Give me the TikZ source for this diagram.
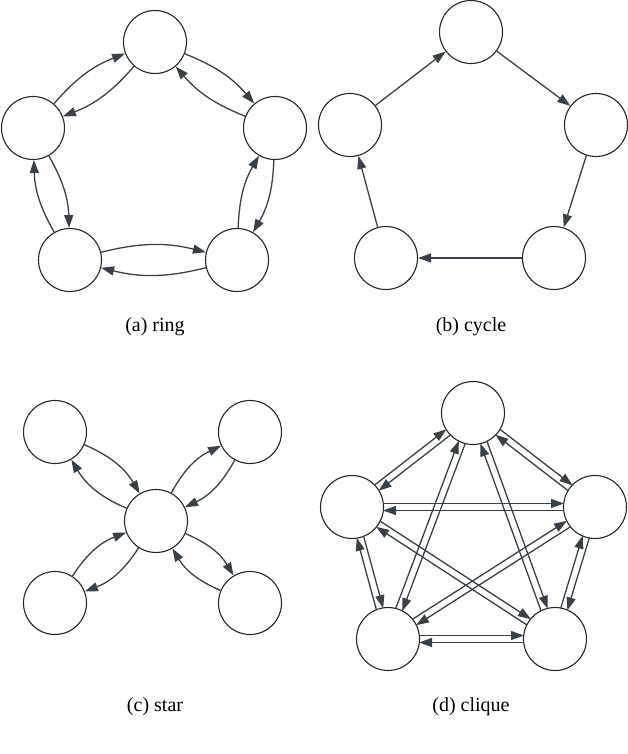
\documentclass[tikz,border=0pt]{standalone}
\usepackage{fontspec}
\setmainfont{Liberation Serif}
\usetikzlibrary{arrows.meta,calc}
\definecolor{ac}{RGB}{58,64,72}
\begin{document}
\begin{tikzpicture}[x=1pt,y=-1pt,
  nd/.style={circle,draw=black!85,line width=1.1pt,minimum size=63pt,inner sep=0pt},
  ar/.style={draw=ac,line width=1.3pt,-{Triangle[length=13pt,width=9pt,fill=ac]}},
  lbl/.style={font=\fontsize{20}{22}\selectfont}]
\useasboundingbox (0,0) rectangle (628,754);
% ring
\node[nd] (r1) at (155,42) {};
\node[nd] (r2) at (275,128) {};
\node[nd] (r3) at (237,260) {};
\node[nd] (r4) at (70,260) {};
\node[nd] (r5) at (33,128) {};
\foreach \a/\b in {r1/r2,r2/r3,r3/r4,r4/r5,r5/r1}{
  \draw[ar] (\a) to[bend left=14] (\b);
  \draw[ar] (\b) to[bend left=14] (\a);}
\node[lbl] (la) at (155,327) {(a) ring};
% cycle
\node[nd] (c1) at (471,32) {};
\node[nd] (c2) at (596,125) {};
\node[nd] (c3) at (554,258) {};
\node[nd] (c4) at (386,258) {};
\node[nd] (c5) at (350,125) {};
\foreach \a/\b in {c1/c2,c2/c3,c3/c4,c4/c5,c5/c1}{\draw[ar] (\a) -- (\b);}
\node[lbl] (lb) at (471,327) {(b) cycle};
% star
\node[nd] (s0) at (156,521) {};
\node[nd] (s1) at (55,432) {};
\node[nd] (s2) at (250,432) {};
\node[nd] (s3) at (55,603) {};
\node[nd] (s4) at (250,603) {};
\foreach \b in {s1,s2,s3,s4}{
  \draw[ar] (s0) to[bend left=18] (\b);
  \draw[ar] (\b) to[bend left=18] (s0);}
\node[lbl] (lc) at (155,707) {(c) star};
% clique
\node[nd] (k1) at (473,413) {};
\node[nd] (k2) at (595,507) {};
\node[nd] (k3) at (555,639) {};
\node[nd] (k4) at (388,639) {};
\node[nd] (k5) at (352,507) {};
\foreach \a/\b in {k1/k2,k1/k3,k1/k4,k1/k5,k2/k3,k2/k4,k2/k5,k3/k4,k3/k5,k4/k5}{
  \draw[ar,shorten <=31pt,shorten >=31pt] ($(\a)!3.5pt!90:(\b)$) -- ($(\b)!3.5pt!-90:(\a)$);
  \draw[ar,shorten <=31pt,shorten >=31pt] ($(\b)!3.5pt!90:(\a)$) -- ($(\a)!3.5pt!-90:(\b)$);}
\node[lbl] (ld) at (471,707) {(d) clique};
\end{tikzpicture}
\end{document}
